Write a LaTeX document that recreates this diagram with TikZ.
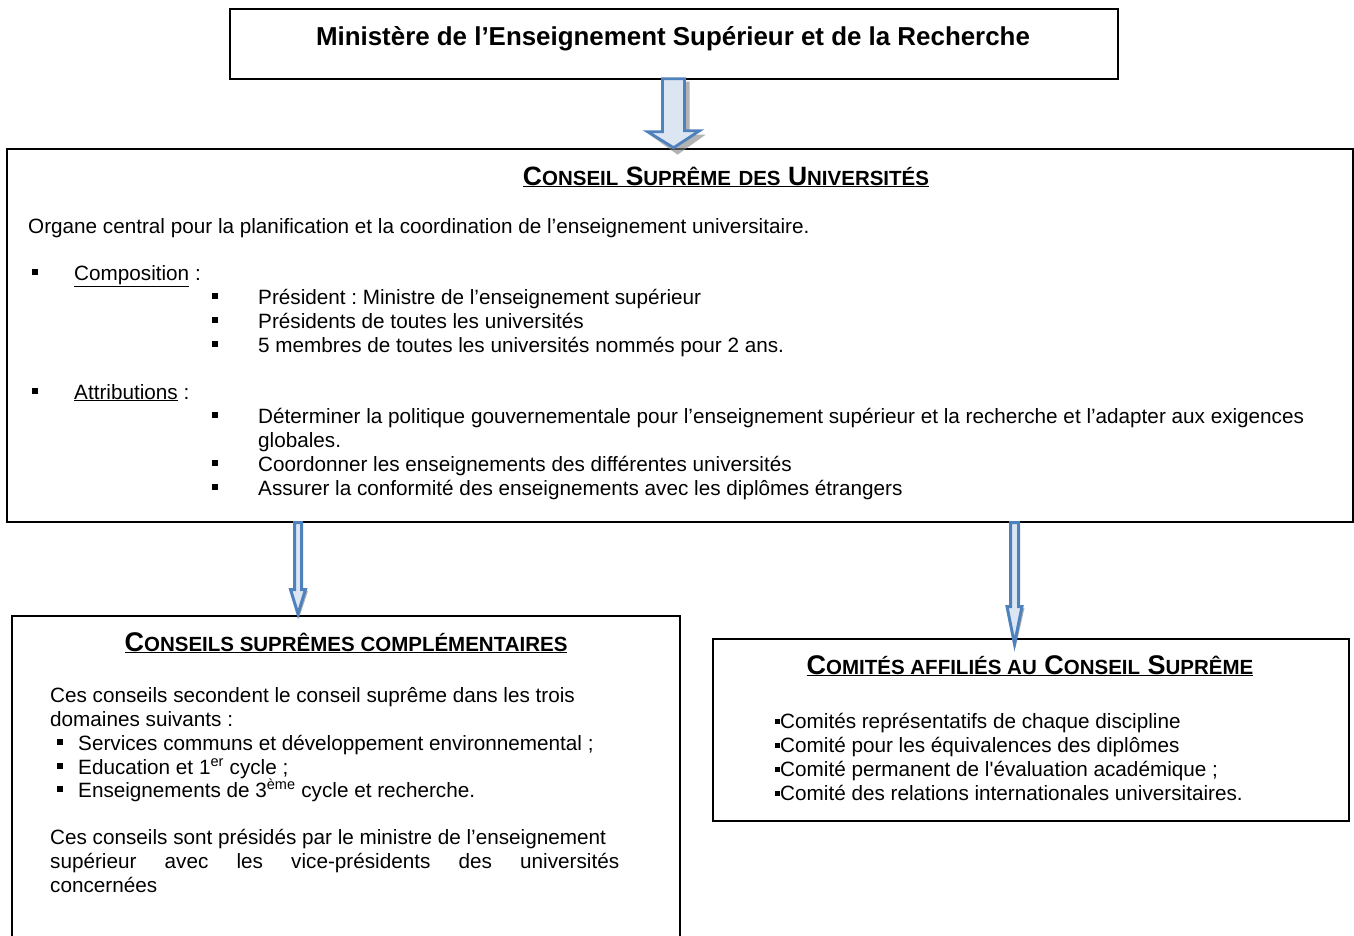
\documentclass[tikz,border=0pt]{standalone}
\usepackage{fontspec}
\setmainfont{Liberation Sans}
\usetikzlibrary{calc}
\definecolor{arrfill}{HTML}{DCE6F2}
\definecolor{arrline}{HTML}{4F81BD}
\definecolor{shadowgray}{HTML}{808080}
\frenchspacing
\newcommand\sqbul{\rule[5pt]{6pt}{6pt}}
\newcommand\smbul{\rule[4.5pt]{5pt}{5pt}}
\newcommand\hsc[2]{#1{\fontsize{20.5}{24}\selectfont #2}}
\tikzset{
  box/.style={draw, line width=1.7pt, anchor=north west, inner sep=0pt},
  txt/.style={anchor=base west, inner sep=0pt, font=\fontsize{20.7}{24}\selectfont},
  head/.style={anchor=base, inner sep=0pt, font=\bfseries\fontsize{26.5}{30}\selectfont},
  blockarrow/.style={fill=arrfill, draw=arrline, line width=2.8pt, line join=miter},
  thinarrow/.style={fill=arrfill, draw=arrline, line width=3pt, line join=miter},
  arrshadow/.style={fill=shadowgray, opacity=0.6}
}
\begin{document}
\begin{tikzpicture}[x=1pt,y=-1pt]
\useasboundingbox (0,0) rectangle (1354,935);
% boxes
\node[box, minimum width=888pt, minimum height=70pt] (mesr) at (229,8) {};
\node[box, minimum width=1346pt, minimum height=373pt] (csu) at (6,148) {};
\node[box, minimum width=668pt, minimum height=330pt] (csc) at (11,615) {};
\node[box, minimum width=636pt, minimum height=182pt] (caff) at (712,638) {};

% top text
\node[anchor=base, inner sep=0pt, font=\bfseries\fontsize{25.9}{30}\selectfont] (mtitle) at (673,45) {Ministère de l’Enseignement Supérieur et de la Recherche};

% block arrow top
\coordinate (a1) at ($(mesr.south west)!0.4997!(mesr.south east)$);
\fill[arrshadow] ($(a1)+(-8,2)$) -- ++(24,0) -- ++(0,53) -- ++(16,0) -- ++(-28,20) -- ++(-28,-20) -- ++(16,0) -- cycle;
\draw[blockarrow] ($(a1)+(-11,-1)$) -- ++(22,0) -- ++(0,52) -- ++(15,0) -- ($(a1)+(0,68)$) -- ++(-26,-16) -- ++(15,0) -- cycle;

% big box content
\node[head] (csuh) at (726,185) {\underline{\hsc{C}{ONSEIL} \hsc{S}{UPRÊME} \hsc{}{DES} \hsc{U}{NIVERSITÉS}}};
\node[txt] (l1) at (28,233) {Organe central pour la planification et la coordination de l’enseignement universitaire.};
\node[txt] (b1) at (32,280) {\sqbul};
\node[txt] (l2) at (74,280) {\underline{Composition} :};
\node[txt] (b2) at (212,304) {\sqbul};
\node[txt] (l3) at (258,304) {Président : Ministre de l’enseignement supérieur};
\node[txt] (b3) at (212,328) {\sqbul};
\node[txt] (l4) at (258,328) {Présidents de toutes les universités};
\node[txt] (b4) at (212,352) {\sqbul};
\node[txt] (l5) at (258,352) {5 membres de toutes les universités nommés pour 2 ans.};
\node[txt] (b5) at (32,399) {\sqbul};
\node[txt] (l6) at (74,399) {\underline{Attributions} :};
\node[txt] (b6) at (212,423) {\sqbul};
\node[txt] (l7) at (258,423) {Déterminer la politique gouvernementale pour l’enseignement supérieur et la recherche et l’adapter aux exigences};
\node[txt] (l8) at (258,447) {globales.};
\node[txt] (b7) at (212,471) {\sqbul};
\node[txt] (l9) at (258,471) {Coordonner les enseignements des différentes universités};
\node[txt] (b8) at (212,495) {\sqbul};
\node[txt] (l10) at (258,495) {Assurer la conformité des enseignements avec les diplômes étrangers};

% thin arrows
\coordinate (a2) at (298,521);
\coordinate (a3) at (1014.5,521);
\fill[arrshadow] ($(a2)+(-8,70)$) -- ++(18,0) -- ++(-9,27) -- cycle;
\draw[thinarrow] ($(a2)+(-3.5,1.5)$) -- ++(7,0) -- ++(0,67) -- ++(4,0) -- ($(a2)+(0,93)$) -- ++(-7.5,-24.5) -- ++(4,0) -- cycle;
\fill[arrshadow] ($(a3)+(-8,87)$) -- ++(18,0) -- ++(-9,40) -- cycle;
\draw[thinarrow] ($(a3)+(-4,1.5)$) -- ++(8,0) -- ++(0,84) -- ++(3.5,0) -- ($(a3)+(0,123)$) -- ++(-7.5,-37.5) -- ++(3.5,0) -- cycle;

% bottom left
\node[head, font=\bfseries\fontsize{27}{30}\selectfont] (csch) at (346,651) {\underline{\hsc{C}{ONSEILS SUPRÊMES COMPLÉMENTAIRES}}};
\node[txt] (m1) at (50,702) {Ces conseils secondent le conseil suprême dans les trois};
\node[txt] (m2) at (50,726) {domaines suivants :};
\node[txt] (c1) at (57,750) {\sqbul};
\node[txt] (m3) at (78,750) {Services communs et développement environnemental ;};
\node[txt] (c2) at (57,774) {\sqbul};
\node[txt] (m4) at (78,774) {Education et 1\textsuperscript{er} cycle ;};
\node[txt] (c3) at (57,797) {\sqbul};
\node[txt] (m5) at (78,797) {Enseignements de 3\textsuperscript{ème} cycle et recherche.};
\node[txt] (m6) at (50,844) {Ces conseils sont présidés par le ministre de l’enseignement};
\node[txt] (m7) at (50,868) {\makebox[569pt][s]{supérieur avec les vice-présidents des universités}};
\node[txt] (m8) at (50,892) {concernées};

% bottom right
\node[head, font=\bfseries\fontsize{27}{30}\selectfont] (caffh) at (1030,674) {\underline{\hsc{C}{OMITÉS AFFILIÉS AU} \hsc{C}{ONSEIL} \hsc{S}{UPRÊME}}};
\node[txt] (r1) at (775,728) {\smbul Comités représentatifs de chaque discipline};
\node[txt] (r2) at (775,752) {\smbul Comité pour les équivalences des diplômes};
\node[txt] (r3) at (775,776) {\smbul Comité permanent de l\textquotesingle évaluation académique ;};
\node[txt] (r4) at (775,800) {\smbul Comité des relations internationales universitaires.};
\end{tikzpicture}
\end{document}
